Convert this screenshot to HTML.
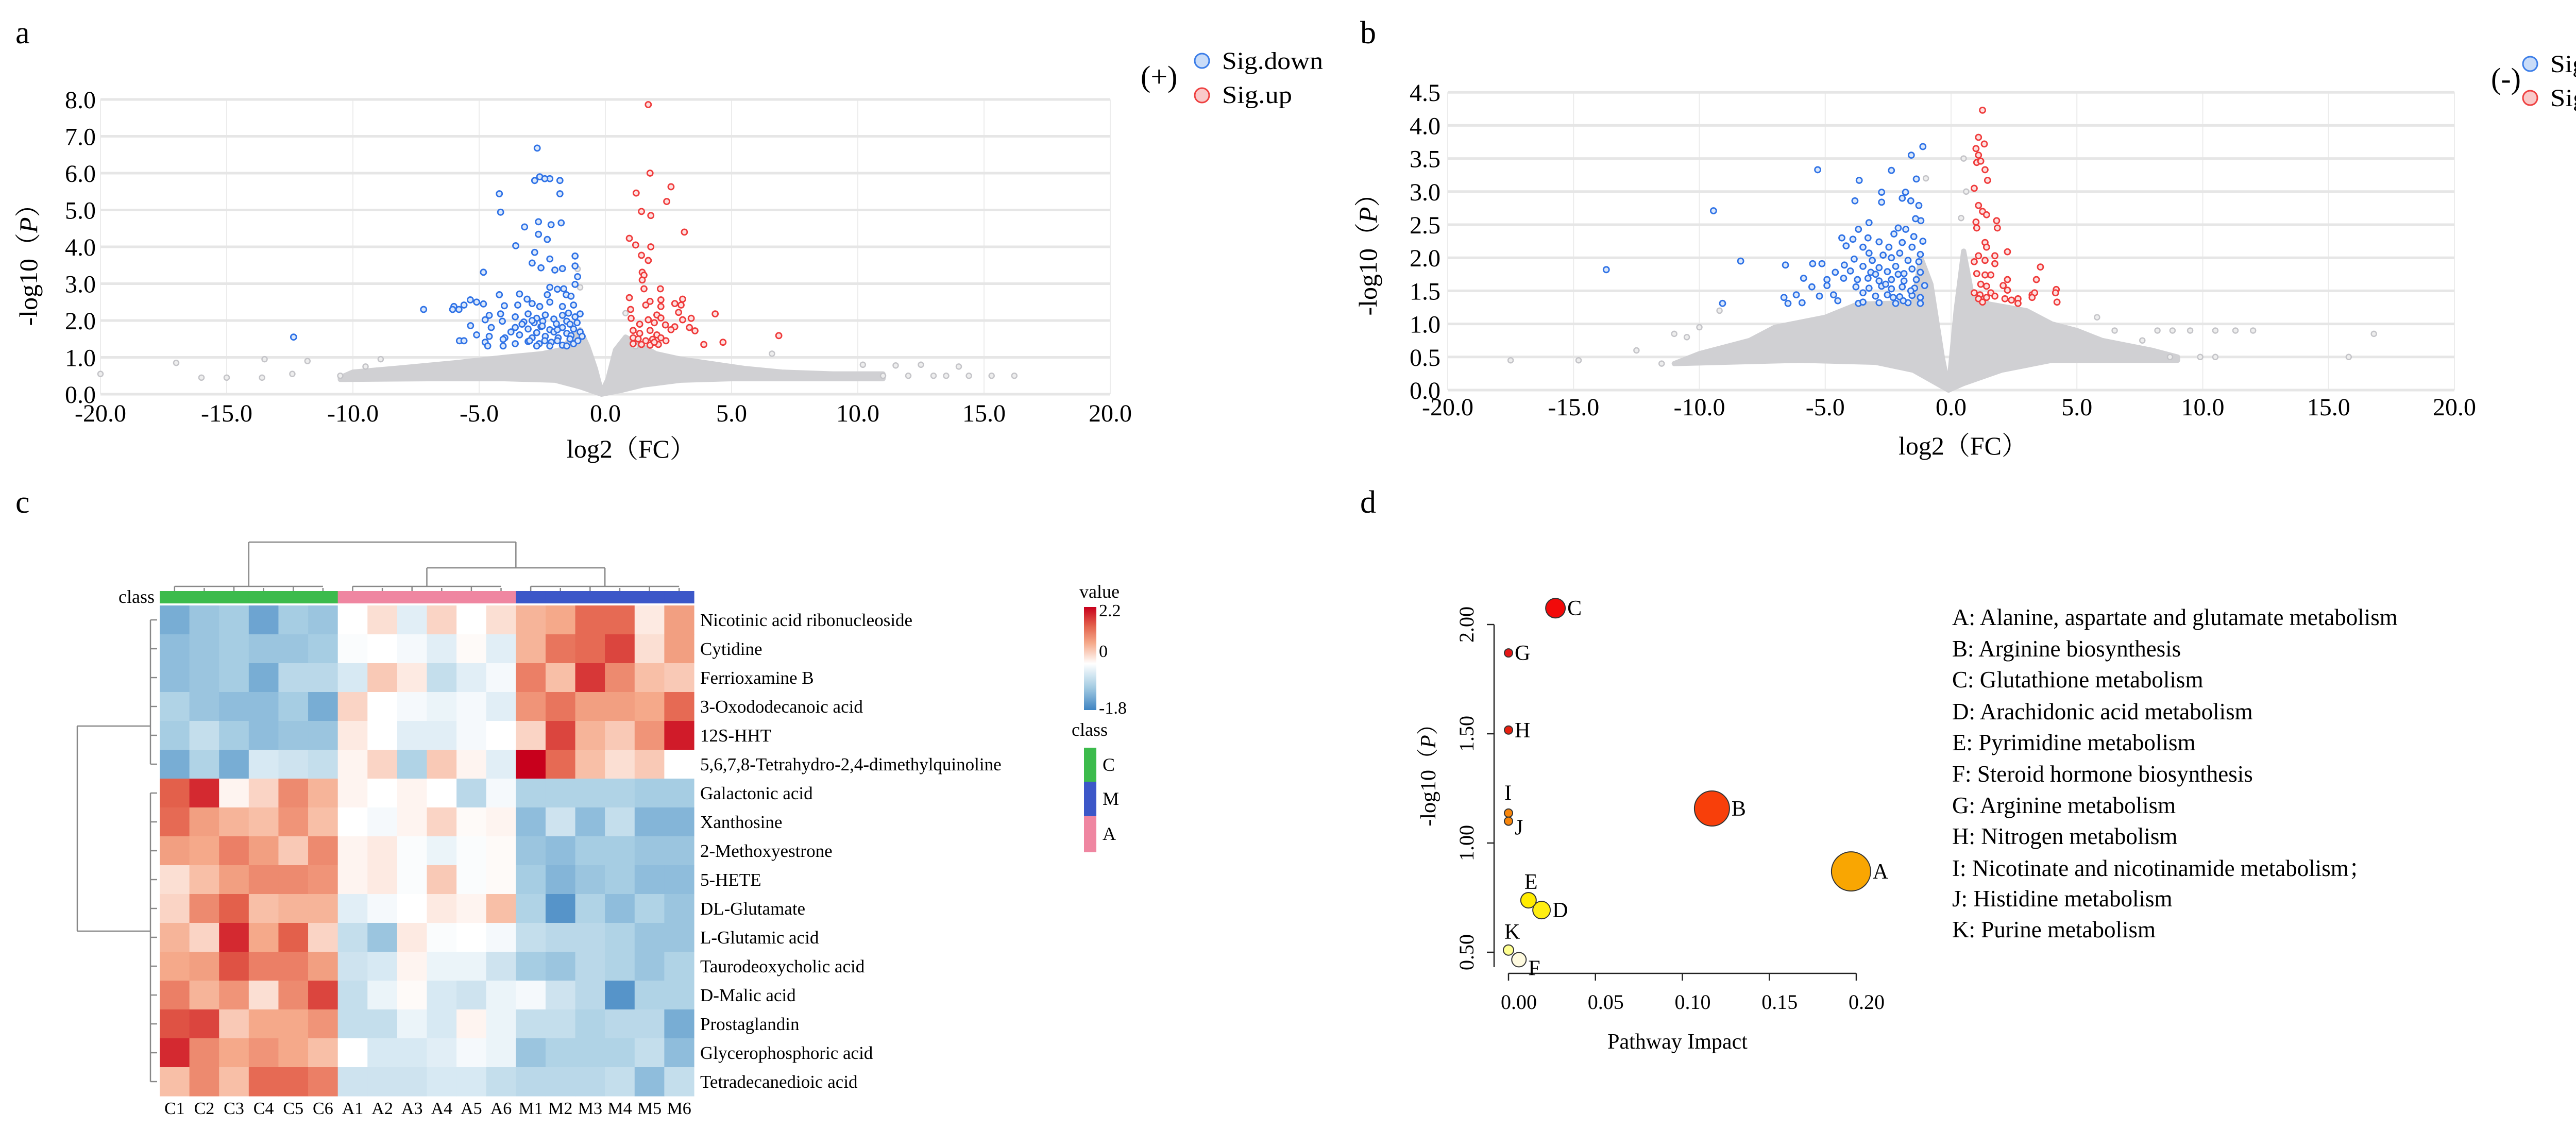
<!DOCTYPE html>
<html><head><meta charset="utf-8">
<style>
html,body{margin:0;padding:0;background:#fff;font-family:"Liberation Serif","Noto Serif CJK SC",serif;}
svg, svg text{font-family:"Liberation Serif","Noto Serif CJK SC",serif;}
</style></head>
<body>
<svg id="fig" xmlns="http://www.w3.org/2000/svg" width="5156" height="2186" viewBox="0 0 5156 2186" font-family="Liberation Serif, Noto Serif CJK SC, serif">
<rect x="0" y="0" width="5156" height="2186" fill="#fff"/>
<text x="30" y="84" font-size="62">a</text>
<text x="2640" y="84" font-size="62">b</text>
<text x="30" y="995" font-size="62">c</text>
<text x="2640" y="995" font-size="62">d</text>

<g id="volA"></g>
<g id="volB"></g>
<g id="heat"></g>
<g id="bub"></g>

<g>
<text x="2214" y="168" font-size="58">(+)</text>
<circle cx="2333" cy="118" r="14" fill="#c9dcf8" stroke="#3b7de8" stroke-width="3"/>
<text x="2372" y="134" font-size="48" textLength="196" lengthAdjust="spacingAndGlyphs">Sig.down</text>
<circle cx="2333" cy="185" r="14" fill="#f9c9c9" stroke="#ee4040" stroke-width="3"/>
<text x="2372" y="200" font-size="48" textLength="136" lengthAdjust="spacingAndGlyphs">Sig.up</text>
</g>
<g>
<text x="4835" y="172" font-size="58">(-)</text>
<circle cx="4911" cy="124" r="14" fill="#c9dcf8" stroke="#3b7de8" stroke-width="3"/>
<text x="4950" y="140" font-size="48" textLength="196" lengthAdjust="spacingAndGlyphs">Sig.down</text>
<circle cx="4911" cy="190" r="14" fill="#f9c9c9" stroke="#ee4040" stroke-width="3"/>
<text x="4950" y="206" font-size="48" textLength="136" lengthAdjust="spacingAndGlyphs">Sig.up</text>
</g>

<text x="1225" y="888" font-size="50" text-anchor="middle">log2（FC）</text>
<text transform="translate(72,502) rotate(-90)" font-size="50" text-anchor="middle">-log10（<tspan font-style="italic">P</tspan>）</text>
<text x="3810" y="882" font-size="50" text-anchor="middle">log2（FC）</text>
<text transform="translate(2672,482) rotate(-90)" font-size="50" text-anchor="middle">-log10（<tspan font-style="italic">P</tspan>）</text>

<defs>
<linearGradient id="valGrad" x1="0" y1="1" x2="0" y2="0">
<stop offset="0" stop-color="#3f84c2"/>
<stop offset="0.225" stop-color="#a6cde3"/>
<stop offset="0.45" stop-color="#ffffff"/>
<stop offset="0.65" stop-color="#f5a98a"/>
<stop offset="0.82" stop-color="#e3604b"/>
<stop offset="1" stop-color="#c8001c"/>
</linearGradient>
</defs>
<g>
<text x="2095" y="1160" font-size="36">value</text>
<rect x="2104" y="1178" width="24" height="200" fill="url(#valGrad)"/>
<text x="2133" y="1196" font-size="34">2.2</text>
<text x="2133" y="1275" font-size="34">0</text>
<text x="2133" y="1385" font-size="34">-1.8</text>
</g>
<g>
<text x="2080" y="1428" font-size="36">class</text>
<rect x="2104" y="1451" width="24" height="66" fill="#3cbb4c"/>
<rect x="2104" y="1517" width="24" height="67" fill="#3c57c8"/>
<rect x="2104" y="1584" width="24" height="70" fill="#ef86a1"/>
<text x="2140" y="1496" font-size="36">C</text>
<text x="2140" y="1562" font-size="36">M</text>
<text x="2140" y="1630" font-size="36">A</text>
</g>

<g font-size="45">
<text x="3789" y="1213">A: Alanine, aspartate and glutamate metabolism</text>
<text x="3789" y="1274">B: Arginine biosynthesis</text>
<text x="3789" y="1334">C: Glutathione metabolism</text>
<text x="3789" y="1396">D: Arachidonic acid metabolism</text>
<text x="3789" y="1456">E: Pyrimidine metabolism</text>
<text x="3789" y="1517">F: Steroid hormone biosynthesis</text>
<text x="3789" y="1578">G: Arginine metabolism</text>
<text x="3789" y="1638">H: Nitrogen metabolism</text>
<text x="3789" y="1700">I: Nicotinate and nicotinamide metabolism；</text>
<text x="3789" y="1759">J: Histidine metabolism</text>
<text x="3789" y="1819">K: Purine metabolism</text>
</g>
<text x="3256" y="2035" font-size="42" text-anchor="middle">Pathway  Impact</text>
<text transform="translate(2786,1494) rotate(-90)" font-size="42" text-anchor="middle">-log10（<tspan font-style="italic">P</tspan>）</text>
</svg>

<script>
// ===== Volcano a data =====
const aXTicks = [-20,-15,-10,-5,0,5,10,15,20];
const aYTicks = [0,1,2,3,4,5,6,7,8];
const aBlue = [[-2.7,6.68],[-2.6,5.9],[-2.8,5.8],[-2.2,5.85],[-1.8,5.8],[-2.4,5.85],[-4.2,5.44],[-1.8,5.44],[-4.15,4.94],[-2.65,4.68],[-3.2,4.54],[-2.15,4.6],[-1.75,4.65],[-2.65,4.34],[-2.3,4.2],[-3.55,4.03],[-2.8,3.85],[-1.2,3.75],[-2.9,3.56],[-2.2,3.67],[-2.55,3.43],[-2.0,3.37],[-1.7,3.41],[-1.2,3.48],[-4.83,3.31],[-1.1,3.19],[-1.2,2.98],[-2.2,2.9],[-1.9,2.85],[-1.65,2.86],[-4.2,2.7],[-3.4,2.72],[-3.1,2.58],[-2.3,2.7],[-1.55,2.7],[-1.36,2.66],[-5.35,2.56],[-5.1,2.5],[-5.6,2.42],[-6.0,2.38],[-5.8,2.3],[-6.05,2.3],[-4.83,2.45],[-4.0,2.4],[-3.47,2.42],[-2.9,2.46],[-2.6,2.38],[-2.2,2.5],[-1.7,2.38],[-1.26,2.42],[-7.2,2.3],[-4.6,2.14],[-4.15,2.18],[-3.57,2.1],[-3.06,2.18],[-2.72,2.06],[-2.38,2.15],[-2.04,2.04],[-1.7,2.14],[-1.46,2.2],[-1.2,2.1],[-1.0,2.18],[-4.76,2.02],[-4.08,1.98],[-3.23,1.96],[-2.82,1.94],[-2.48,1.98],[-1.94,1.91],[-1.53,1.98],[-1.12,1.94],[-5.34,1.86],[-4.52,1.81],[-3.57,1.81],[-3.06,1.77],[-2.55,1.83],[-2.2,1.75],[-1.7,1.81],[-1.26,1.77],[-3.74,1.69],[-2.72,1.67],[-2.04,1.69],[-1.53,1.65],[-1.0,1.69],[-5.1,1.61],[-4.6,1.57],[-3.98,1.53],[-3.4,1.61],[-2.9,1.53],[-2.38,1.57],[-1.87,1.53],[-1.36,1.59],[-0.92,1.57],[-5.78,1.45],[-5.6,1.45],[-4.76,1.41],[-4.05,1.49],[-3.57,1.37],[-3.06,1.43],[-2.62,1.37],[-2.14,1.41],[-1.7,1.33],[-1.26,1.37],[-1.09,1.45],[-4.66,1.31],[-4.05,1.31],[-2.72,1.31],[-2.2,1.31],[-1.53,1.31],[-12.35,1.55],[-3.3,1.9],[-2.9,2.0],[-2.5,1.85],[-1.9,1.75],[-1.4,1.9],[-3.0,1.45],[-2.4,1.45],[-1.9,1.45],[-1.4,1.5]];
const aRed = [[1.7,7.86],[1.77,6.0],[2.6,5.63],[1.22,5.46],[2.43,5.23],[1.43,4.96],[1.8,4.85],[3.13,4.4],[0.95,4.23],[1.2,4.05],[1.8,4.0],[1.43,3.77],[1.7,3.63],[1.46,3.31],[1.53,3.23],[1.46,3.1],[1.53,2.86],[2.18,2.86],[0.95,2.62],[1.77,2.52],[2.2,2.56],[3.06,2.58],[2.75,2.46],[3.0,2.42],[1.0,2.3],[1.6,2.42],[2.2,2.38],[4.35,2.18],[2.04,2.15],[2.9,2.22],[1.02,2.06],[1.7,2.02],[2.2,2.07],[3.06,2.02],[3.4,2.06],[1.36,1.9],[1.94,1.94],[2.38,1.88],[2.75,1.83],[3.33,1.81],[1.1,1.73],[1.77,1.73],[2.6,1.75],[3.55,1.72],[1.36,1.65],[2.04,1.61],[6.87,1.59],[1.1,1.53],[1.87,1.49],[2.2,1.53],[4.66,1.41],[3.9,1.35],[1.1,1.37],[1.43,1.35],[1.77,1.33],[2.1,1.35],[1.94,1.41],[1.6,1.45],[2.4,1.45],[1.3,1.5]];
const aGrey = [[-20,0.55],[-17,0.85],[-16,0.45],[-15,0.45],[-13.6,0.45],[-13.5,0.95],[-12.4,0.55],[-11.8,0.9],[-10.5,0.5],[-9.5,0.75],[-8.9,0.95],[10.2,0.8],[11.5,0.78],[12.5,0.8],[14,0.75],[14.4,0.5],[15.3,0.5],[16.2,0.5],[11,0.5],[12,0.5],[13,0.5],[13.5,0.5],[6.6,1.1],[-1.0,2.9],[-1.1,3.4],[0.8,2.2],[1.2,1.3]];
const aCloudTop = [[-10.5,0.45],[-10,0.6],[-8,0.72],[-6,0.85],[-4,1.0],[-2.5,1.1],[-1.8,1.2],[-1.3,1.55],[-1.0,1.75],[-0.7,1.3],[-0.4,0.7],[-0.15,0.05],[0.1,0.4],[0.4,1.2],[0.8,1.55],[1.2,1.4],[2,1.1],[3,0.95],[4,0.85],[5.5,0.7],[7,0.6],[9,0.55],[11,0.55]];
const aCloudBottom = [[11,0.42],[8,0.42],[5,0.42],[3,0.38],[1.5,0.25],[0.6,0.1],[-0.15,0.0],[-1,0.2],[-2,0.38],[-4,0.42],[-7,0.42],[-10.5,0.4]];

// ===== Volcano b data =====
const bXTicks = [-20,-15,-10,-5,0,5,10,15,20];
const bYTicks = [0,0.5,1,1.5,2,2.5,3,3.5,4,4.5];
const bBlue = [[-1.12,3.68],[-1.58,3.55],[-5.3,3.33],[-2.37,3.32],[-3.65,3.17],[-1.38,3.19],[-2.76,2.99],[-1.81,2.99],[-3.82,2.86],[-2.76,2.84],[-1.94,2.9],[-1.6,2.86],[-1.28,2.79],[-9.44,2.71],[-1.41,2.59],[-3.26,2.53],[-1.2,2.56],[-2.1,2.45],[-3.68,2.43],[-1.8,2.43],[-2.27,2.36],[-4.34,2.3],[-3.3,2.3],[-3.9,2.28],[-2.86,2.24],[-1.94,2.23],[-1.48,2.32],[-1.12,2.25],[-4.17,2.18],[-3.5,2.16],[-2.47,2.16],[-1.55,2.16],[-3.26,2.07],[-2.7,2.04],[-2.04,2.07],[-1.22,2.05],[-3.85,1.98],[-3.13,1.96],[-2.37,2.0],[-1.71,1.96],[-1.28,1.94],[-8.36,1.95],[-13.7,1.82],[-6.58,1.89],[-5.5,1.91],[-5.13,1.91],[-4.24,1.89],[-3.5,1.87],[-2.86,1.85],[-2.2,1.87],[-1.55,1.83],[-4.0,1.8],[-3.19,1.78],[-2.53,1.79],[-1.87,1.76],[-1.22,1.78],[-5.86,1.69],[-4.6,1.78],[-4.93,1.67],[-4.27,1.69],[-3.72,1.67],[-3.3,1.69],[-2.86,1.65],[-2.37,1.67],[-1.87,1.65],[-1.38,1.67],[-5.53,1.56],[-4.93,1.58],[-3.78,1.56],[-3.26,1.54],[-2.76,1.57],[-2.37,1.53],[-1.94,1.56],[-1.45,1.54],[-1.05,1.58],[-6.15,1.44],[-6.64,1.4],[-5.23,1.42],[-4.67,1.44],[-3.5,1.47],[-3.0,1.42],[-2.53,1.44],[-2.04,1.41],[-1.55,1.43],[-1.22,1.4],[-6.48,1.31],[-5.92,1.32],[-4.5,1.35],[-3.68,1.31],[-3.5,1.33],[-2.86,1.32],[-2.2,1.31],[-1.71,1.32],[-1.22,1.31],[-9.08,1.31],[-2.6,1.6],[-2.1,1.75],[-1.6,1.5],[-3.0,1.75],[-2.3,1.4],[-1.9,1.35]];
const bRed = [[1.25,4.23],[1.09,3.82],[1.32,3.72],[0.99,3.65],[1.09,3.55],[1.02,3.44],[1.18,3.46],[1.35,3.33],[1.45,3.17],[0.92,3.05],[1.09,2.79],[1.25,2.7],[1.41,2.65],[0.99,2.54],[1.81,2.56],[1.02,2.45],[1.84,2.45],[1.35,2.23],[1.41,2.16],[2.24,2.09],[1.09,2.03],[1.74,2.03],[0.92,1.94],[1.35,1.96],[1.74,1.91],[3.55,1.86],[1.02,1.76],[1.35,1.74],[1.58,1.74],[2.24,1.67],[3.39,1.67],[1.18,1.6],[2.07,1.58],[1.41,1.57],[4.18,1.52],[0.92,1.47],[1.15,1.44],[1.58,1.47],[1.74,1.42],[2.24,1.51],[3.22,1.44],[3.32,1.47],[4.15,1.47],[1.09,1.38],[1.41,1.4],[2.14,1.38],[2.4,1.36],[2.66,1.38],[2.66,1.31],[1.25,1.33],[4.21,1.33],[3.22,1.4]];
const bGrey = [[-17.5,0.45],[-14.8,0.45],[-12.5,0.6],[-11.5,0.4],[-11,0.85],[-10.5,0.8],[-10,0.95],[-9.2,1.2],[5.8,1.1],[6.5,0.9],[7.6,0.75],[8.2,0.9],[8.8,0.9],[9.5,0.9],[10.5,0.9],[11.3,0.9],[12.0,0.9],[8.7,0.5],[9.9,0.5],[10.5,0.5],[15.8,0.5],[16.8,0.85],[-1.0,3.2],[0.5,3.5],[0.6,3.0],[0.4,2.6]];
const bCloudTop = [[-11,0.4],[-10,0.55],[-8,0.75],[-7,0.95],[-5,1.1],[-3.7,1.3],[-1.5,1.32],[-1.2,2.0],[-0.8,1.6],[-0.35,0.5],[-0.1,0.02],[0.2,1.2],[0.5,2.1],[0.8,1.5],[1.5,1.3],[3,1.2],[4,1.0],[5,0.9],[6,0.75],[8,0.6],[9,0.5]];
const bCloudBottom = [[9,0.45],[6,0.45],[4,0.45],[2,0.3],[0.5,0.1],[-0.1,0.0],[-1.5,0.3],[-3,0.42],[-6,0.45],[-11,0.4]];

// ===== Heatmap data =====
const heatRows = ["Nicotinic acid ribonucleoside","Cytidine","Ferrioxamine B","3-Oxododecanoic acid","12S-HHT","5,6,7,8-Tetrahydro-2,4-dimethylquinoline","Galactonic acid","Xanthosine","2-Methoxyestrone","5-HETE","DL-Glutamate","L-Glutamic acid","Taurodeoxycholic acid","D-Malic acid","Prostaglandin","Glycerophosphoric acid","Tetradecanedioic acid"];
const heatCols = ["C1","C2","C3","C4","C5","C6","A1","A2","A3","A4","A5","A6","M1","M2","M3","M4","M5","M6"];
const heatClass = ["C","C","C","C","C","C","A","A","A","A","A","A","M","M","M","M","M","M"];
const heatValues = [
[-1.3,-1.0,-0.9,-1.4,-0.9,-1.0, 0,0.3,-0.3,0.4,0,0.3, 0.7,0.8,1.4,1.4,0.2,0.9],
[-1.1,-1.0,-0.9,-1.0,-1.0,-0.9, -0.05,0,-0.1,-0.3,0.05,-0.3, 0.7,1.3,1.4,1.7,0.3,0.9],
[-1.1,-1.0,-0.9,-1.3,-0.7,-0.7, -0.4,0.5,0.2,-0.6,-0.3,-0.1, 1.2,0.6,1.8,1.1,0.6,0.5],
[-0.8,-1.0,-1.1,-1.1,-0.9,-1.3, 0.4,0,-0.1,-0.2,-0.1,-0.3, 1.0,1.3,0.9,0.9,0.8,1.4],
[-0.9,-0.6,-0.9,-1.1,-1.0,-1.0, 0.2,0,-0.3,-0.3,-0.1,0, 0.4,1.7,0.7,0.5,1.0,2.0],
[-1.3,-0.8,-1.3,-0.4,-0.5,-0.6, 0.1,0.4,-0.8,0.5,0.1,-0.3, 2.2,1.4,0.6,0.3,0.5,0.0],
[1.5,1.9,0.1,0.4,1.1,0.7, 0.1,0,0.1,0,-0.7,-0.1, -0.8,-0.8,-0.8,-0.8,-0.9,-0.9],
[1.4,0.9,0.7,0.6,1.0,0.6, 0,-0.1,0.1,0.4,0.05,0.1, -1.1,-0.5,-1.1,-0.6,-1.2,-1.2],
[0.9,0.8,1.2,0.9,0.5,1.1, 0.1,0.2,-0.05,-0.2,-0.05,0.05, -1.0,-1.1,-0.9,-0.9,-1.0,-1.0],
[0.3,0.6,0.9,1.1,1.1,1.0, 0.1,0.2,-0.05,0.5,-0.05,0.05, -0.9,-1.2,-1.0,-0.9,-1.1,-1.1],
[0.4,1.1,1.5,0.6,0.7,0.7, -0.3,-0.1,0,0.2,0.1,0.6, -0.8,-1.6,-0.8,-1.1,-0.8,-1.0],
[0.7,0.4,1.9,0.8,1.5,0.4, -0.6,-1.0,0.2,-0.05,0,-0.1, -0.6,-0.7,-0.7,-0.8,-1.0,-1.0],
[0.8,0.9,1.6,1.2,1.2,0.9, -0.5,-0.4,0.1,-0.2,-0.2,-0.5, -0.9,-1.0,-0.7,-0.8,-1.0,-0.8],
[1.2,0.7,1.0,0.3,1.1,1.7, -0.6,-0.2,0.05,-0.4,-0.5,-0.2, -0.1,-0.5,-0.7,-1.6,-0.8,-0.8],
[1.6,1.7,0.5,0.8,0.8,1.0, -0.6,-0.6,-0.2,-0.4,0.1,-0.2, -0.6,-0.6,-0.8,-0.7,-0.7,-1.3],
[1.9,1.1,0.8,1.0,0.8,0.6, 0,-0.4,-0.4,-0.3,-0.1,-0.2, -1.0,-0.8,-0.8,-0.8,-0.6,-1.1],
[0.6,1.1,0.6,1.4,1.4,1.2, -0.5,-0.5,-0.5,-0.4,-0.4,-0.6, -0.7,-0.7,-0.7,-0.6,-1.1,-0.6]
];

// ===== Pathway bubble data =====
const bubbleLabels = ["A","B","C","D","E","F","G","H","I","J","K"];
const bubbleImpact = [0.197,0.117,0.027,0.019,0.0115,0.006,0.0,0.0,0.0,0.0,0.0];
const bubbleLogP = [0.87,1.158,2.075,0.693,0.738,0.466,1.87,1.517,1.137,1.10,0.51];
const bubbleSize = [38,34,19,17,15,14,8,8,8,8,10];
const bubbleColors = ["#f9a602","#f83f0a","#f20a0a","#ffee11","#ffec00","#fffbe0","#e51717","#e8200f","#f8860c","#f8860c","#ffff90"];
const dXTicks = [0,0.05,0.10,0.15,0.20];
const dYTicks = [0.5,1.0,1.5,2.0];

const SVGNS = 'http://www.w3.org/2000/svg';
function mk(parent, tag, attrs){
  const e = document.createElementNS(SVGNS, tag);
  for (const k in attrs) e.setAttribute(k, attrs[k]);
  parent.appendChild(e);
  return e;
}

function drawVolcano(g, X, Y, xt, yt, cloudTop, cloudBottom, grey, blue, red, labelRightX, xLabelY, key){
  const x0 = X(xt[0]), x1 = X(xt[xt.length-1]);
  const y0 = Y(yt[0]), y1 = Y(yt[yt.length-1]);
  xt.forEach(v => {
    const l = mk(g,'line',{x1:X(v),x2:X(v),y1:y1,y2:y0,stroke:'#ececec','stroke-width':2});
    
    
    const t = mk(g,'text',{x:X(v),y:xLabelY,'font-size':48,'text-anchor':'middle'});
    t.textContent = v.toFixed(1);
    
    
  });
  yt.forEach(v => {
    const l = mk(g,'line',{x1:x0,x2:x1,y1:Y(v),y2:Y(v),stroke:'#e6e6e6','stroke-width':5});
    
    
    const t = mk(g,'text',{x:labelRightX,y:Y(v)+17,'font-size':48,'text-anchor':'end'});
    t.textContent = v.toFixed(1);
    
    
  });
  const pts = cloudTop.concat(cloudBottom).map(p => X(p[0])+','+Y(p[1])).join(' ');
  const cl = mk(g,'polygon',{points:pts,fill:'#d0d0d3',stroke:'#d0d0d3','stroke-width':10,'stroke-linejoin':'round'});
  
  
  grey.forEach(p => {
    const c = mk(g,'circle',{cx:X(p[0]),cy:Y(p[1]),r:5,fill:'#eeeeee',stroke:'#c4c4c8','stroke-width':2.5});
    
    
  });
  blue.forEach(p => {
    const c = mk(g,'circle',{cx:X(p[0]),cy:Y(p[1]),r:5.5,fill:'#dbe8fb',stroke:'#2f72e6','stroke-width':2.8});
    
    
  });
  red.forEach(p => {
    const c = mk(g,'circle',{cx:X(p[0]),cy:Y(p[1]),r:5.5,fill:'#fde0e0',stroke:'#ef3b3b','stroke-width':2.8});
    
    
  });
}
const xA = v => 195 + (v + 20) * 49;
const yA = v => 765 - v * 71.5;
drawVolcano(document.getElementById('volA'), xA, yA, aXTicks, aYTicks, aCloudTop, aCloudBottom, aGrey, aBlue, aRed, 186, 818, 'volcano-a');
const xB = v => 2810 + (v + 20) * 48.85;
const yB = v => 757 - v * 128.4;
drawVolcano(document.getElementById('volB'), xB, yB, bXTicks, bYTicks, bCloudTop, bCloudBottom, bGrey, bBlue, bRed, 2796, 806, 'volcano-b');

function lerp(a,b,t){return Math.round(a+(b-a)*t);}
const stopsV = [-1.8,-0.9,0,0.8,1.5,2.2];
const stopsC = [[63,132,194],[166,205,227],[255,255,255],[245,169,138],[227,96,75],[200,0,28]];
function heatColor(v){
  if (v <= stopsV[0]) return 'rgb('+stopsC[0].join(',')+')';
  for (let i=0;i<stopsV.length-1;i++){
    if (v <= stopsV[i+1]){
      const t = (v-stopsV[i])/(stopsV[i+1]-stopsV[i]);
      const a = stopsC[i], b = stopsC[i+1];
      return 'rgb('+lerp(a[0],b[0],t)+','+lerp(a[1],b[1],t)+','+lerp(a[2],b[2],t)+')';
    }
  }
  return 'rgb('+stopsC[stopsC.length-1].join(',')+')';
}
const hg = document.getElementById('heat');
const HX0 = 310, HX1 = 1347, HY0 = 1175, HY1 = 2127;
const cw = (HX1-HX0)/heatCols.length, rh = (HY1-HY0)/heatRows.length;
const colX = i => HX0 + i*cw;
const rowY = j => HY0 + j*rh;
const classColor = {C:'#3cbb4c', A:'#ef86a1', M:'#3c57c8'};
heatValues.forEach((row, j) => {
  row.forEach((v, i) => {
    const r = mk(hg,'rect',{x:colX(i),y:rowY(j),width:cw+0.6,height:rh+0.6,fill:heatColor(v)});
    
    
  });
  const t = mk(hg,'text',{x:HX1+12,y:rowY(j)+rh/2+12,'font-size':35});
  t.textContent = heatRows[j];
  
  
});
heatCols.forEach((c, i) => {
  const r = mk(hg,'rect',{x:colX(i),y:1147,width:cw+0.6,height:24,fill:classColor[heatClass[i]]});
  
  
  const t = mk(hg,'text',{x:colX(i)+cw/2,y:2162,'font-size':34,'text-anchor':'middle'});
  t.textContent = c;
  
  
});
const clsLbl = mk(hg,'text',{x:300,y:1170,'font-size':36,'text-anchor':'end'});
clsLbl.textContent = 'class';



const dend = mk(hg,'g',{stroke:'#888','stroke-width':2.5,fill:'none'});


const cc = i => colX(i)+cw/2;
const segs = [];
[[0,6],[6,12],[12,18]].forEach(([a,b]) => {
  const top = 1138;
  segs.push([cc(a),top,cc(b-1),top]);
  for (let i=a;i<b;i++) segs.push([cc(i),top+((i%2)?3:0),cc(i),1147]);
});
const cMid=(cc(0)+cc(5))/2, aMid=(cc(6)+cc(11))/2, mMid=(cc(12)+cc(17))/2;
segs.push([cMid,1052,cMid,1138],[aMid,1102,aMid,1138],[mMid,1102,mMid,1138],[aMid,1102,mMid,1102],[(aMid+mMid)/2,1052,(aMid+mMid)/2,1102],[cMid,1052,(aMid+mMid)/2,1052]);
const rc = j => rowY(j)+rh/2;
segs.push([150,1409,150,1807],[150,1409,292,1409],[150,1807,292,1807]);
[[0,6],[6,17]].forEach(([a,b]) => {
  segs.push([292,rc(a),292,rc(b-1)]);
  for (let j=a;j<b;j++) segs.push([292,rc(j),305,rc(j)]);
});
segs.forEach(s => {
  const l = mk(dend,'line',{x1:s[0],y1:s[1],x2:s[2],y2:s[3]});
  
  
});

const bg = document.getElementById('bub');
const xD = v => 2928 + v * 3375;
const yD = v => 1636 - (v - 1) * 424;
const ax = mk(bg,'g',{stroke:'#222','stroke-width':2.5});


const yl = mk(ax,'line',{x1:2900,y1:yD(2.0),x2:2900,y2:1877});


const xl = mk(ax,'line',{x1:xD(0),y1:1889,x2:xD(0.2),y2:1889});


dYTicks.forEach(v => {
  const l = mk(ax,'line',{x1:2886,y1:yD(v),x2:2900,y2:yD(v)});
  
  
  const t = mk(bg,'text',{transform:'translate(2860,'+yD(v)+') rotate(-90)','font-size':40,'text-anchor':'middle'});
  t.textContent = v.toFixed(2);
  
  
});
dXTicks.forEach(v => {
  const l = mk(ax,'line',{x1:xD(v),y1:1889,x2:xD(v),y2:1903});
  
  
  const t = mk(bg,'text',{x:xD(v)+20,y:1958,'font-size':40,'text-anchor':'middle'});
  t.textContent = v.toFixed(2);
  
  
});
const labelPos = {A:[1,0],B:[1,0],C:[1,0],D:[1,0],E:[0,-1],F:[1,0.8],G:[1,0],H:[1,0],I:[0,-1.6],J:[1,0.6],K:[0,-1.5]};
bubbleLabels.forEach((lab, i) => {
  const cx = xD(bubbleImpact[i]), cy = yD(bubbleLogP[i]), r = bubbleSize[i];
  const c = mk(bg,'circle',{cx:cx,cy:cy,r:r,fill:bubbleColors[i],stroke:'#333','stroke-width':2});
  
  
  const p = labelPos[lab];
  let tx, ty;
  if (p[0] === 1){ tx = cx + r + 4; ty = cy + 14 + p[1]*20; }
  else { tx = cx - 8; ty = cy + p[1]*r*1.2 - 4 + (lab==='I'?-6:0); }
  const t = mk(bg,'text',{x:tx,y:ty,'font-size':42});
  t.textContent = lab;
  
  
});
</script>
</body></html>
